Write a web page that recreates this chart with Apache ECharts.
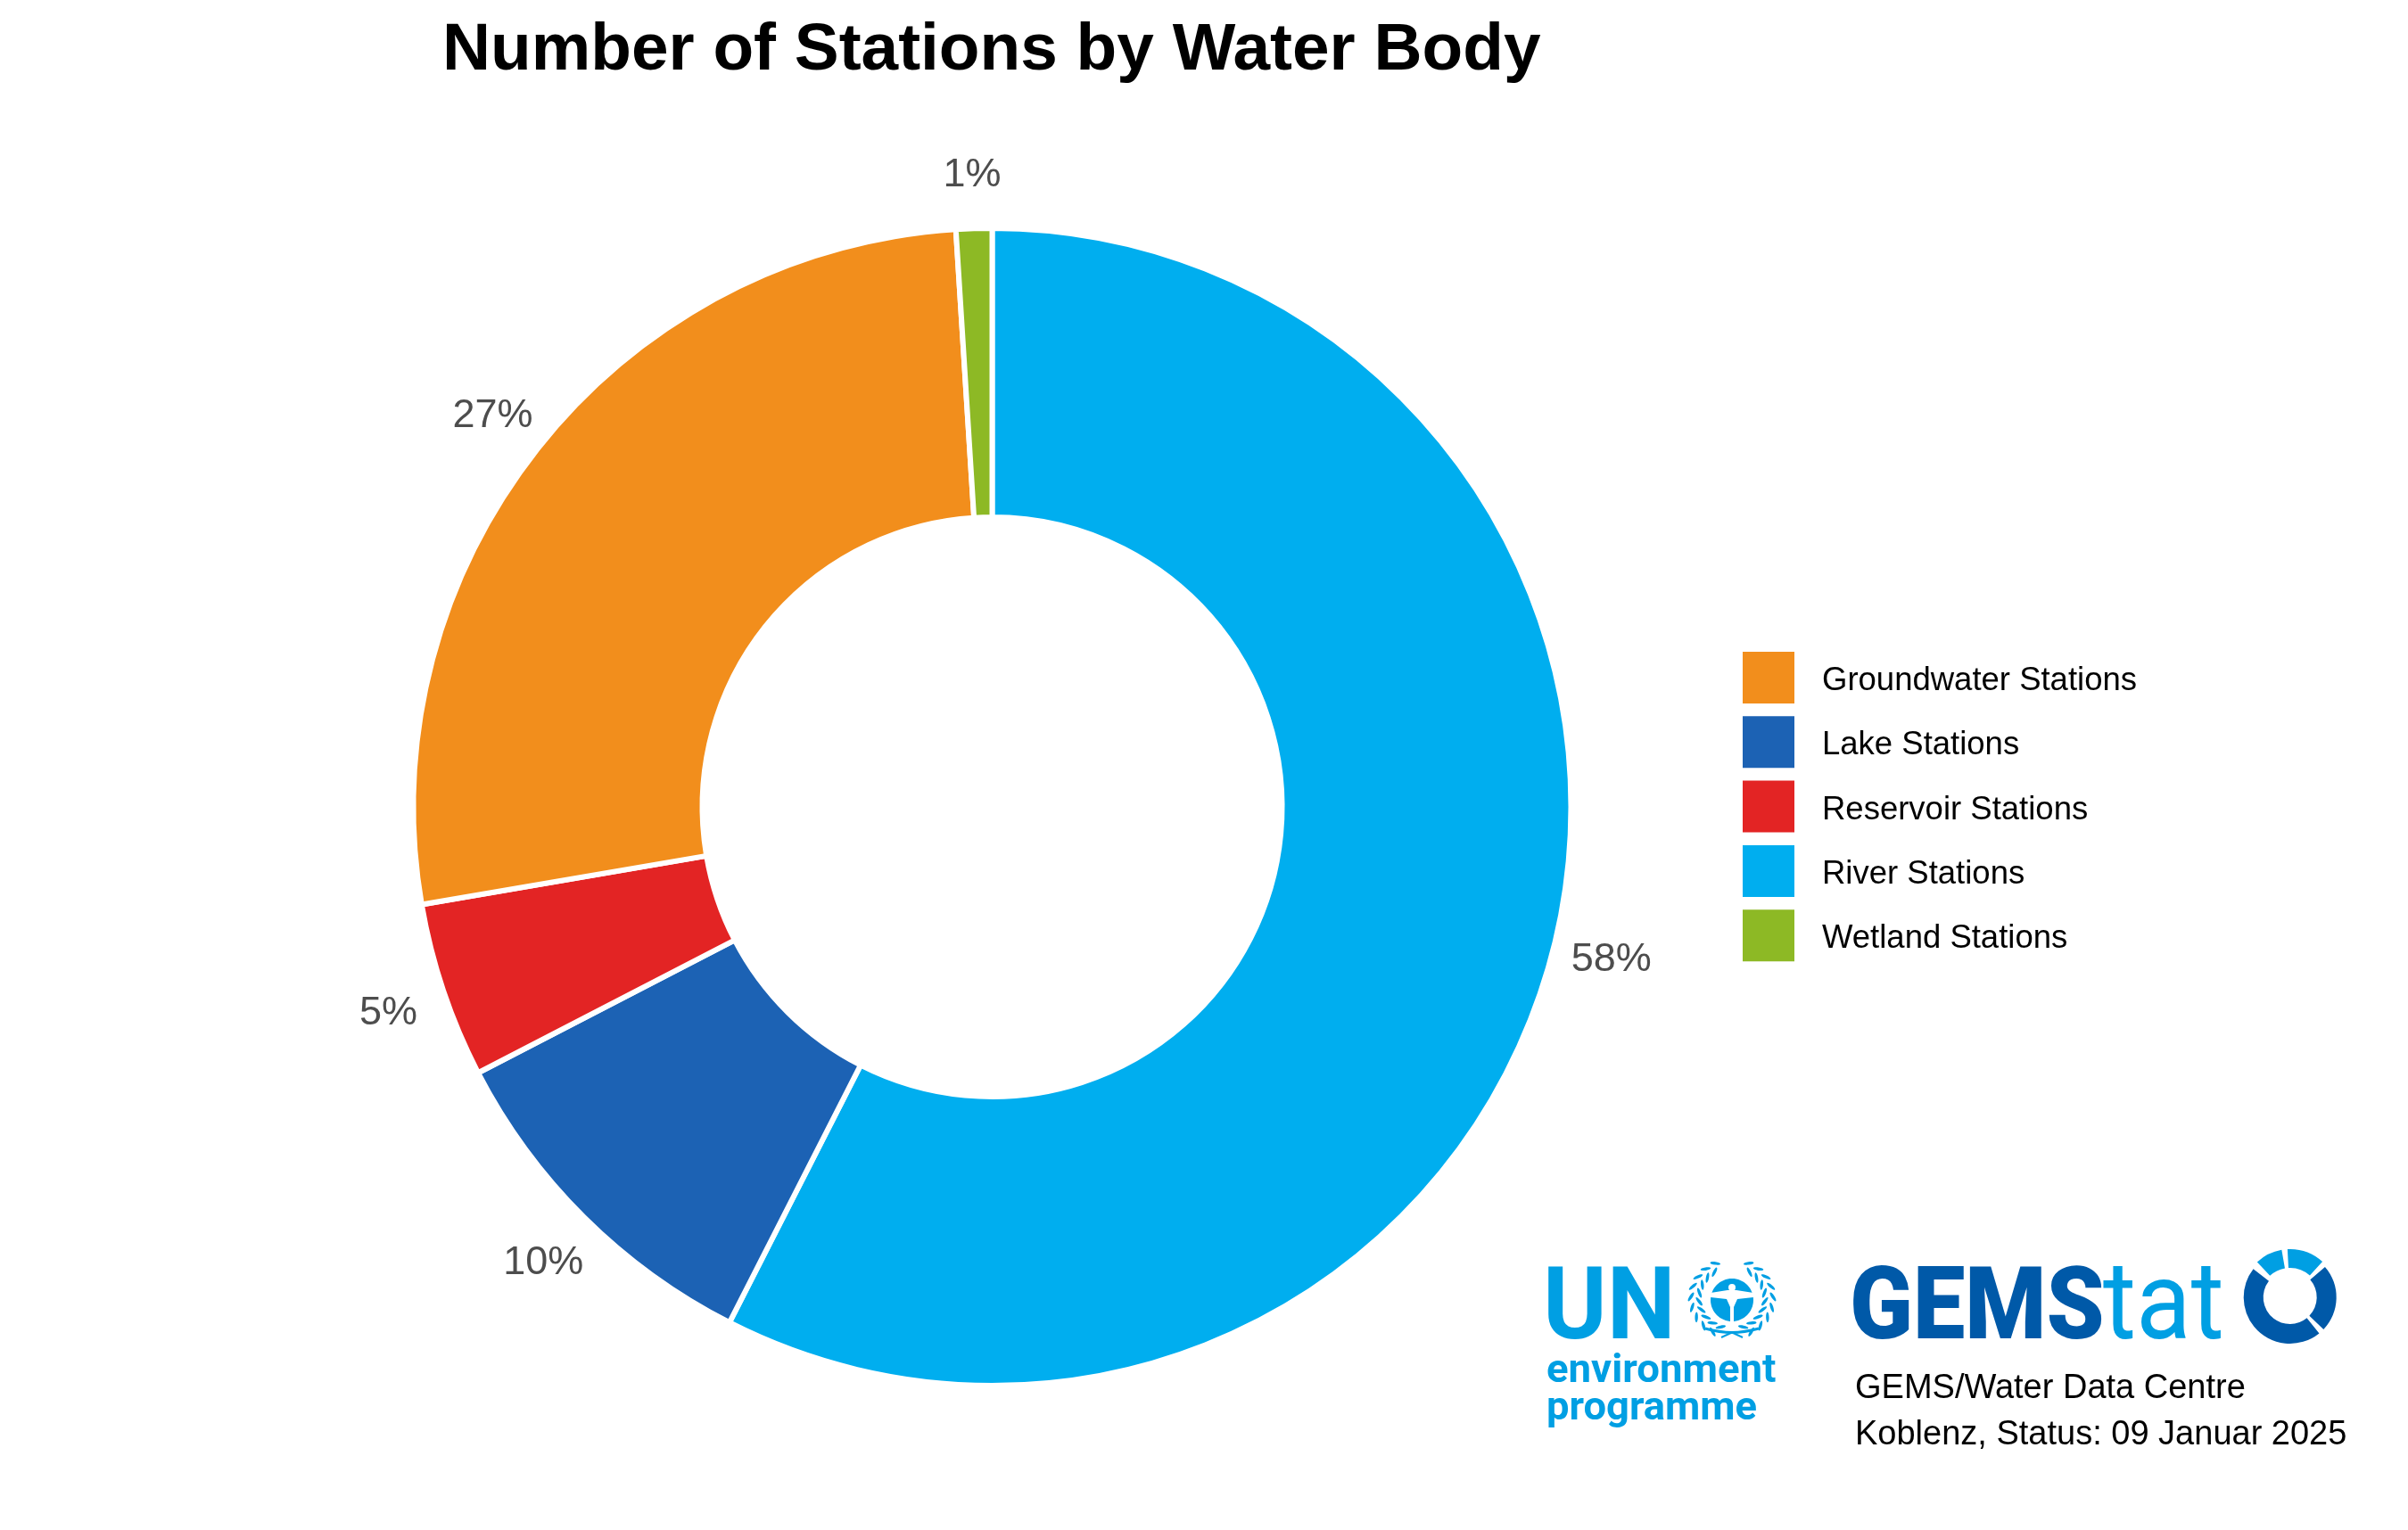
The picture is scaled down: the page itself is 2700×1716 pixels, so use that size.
<!DOCTYPE html>
<html><head><meta charset="utf-8">
<style>html,body{margin:0;padding:0;background:#fff}#c{width:2700px;height:1716px}</style>
<script src="https://cdn.jsdelivr.net/npm/echarts@6/dist/echarts.min.js"></script>
</head><body><div id="c"></div>
<script>
const legendOrder = ['Groundwater Stations','Lake Stations','Reservoir Stations','River Stations','Wetland Stations'];
const sliceNames = ['River Stations','Lake Stations','Reservoir Stations','Groundwater Stations','Wetland Stations'];
const sliceValues = [57.5, 9.9, 4.9, 26.7, 1.0];
const sliceColors = ['#00AEEF','#1C62B4','#E32424','#F28E1C','#8DB925'];
const titleText = 'Number of Stations by Water Body';
const creditLines = ['GEMS/Water Data Centre','Koblenz, Status: 09 Januar 2025'];
const FONT = '"Liberation Sans", Arial, sans-serif';
const LOGOFONT = 'Roboto, "Liberation Sans", sans-serif';
const LIGHT = '#009FE3', DARK = '#0059A8';

function txt(text,x,base,size,fill,weight,sx,family){
  const k = family ? 0.225 : 0.345;
  return {type:'text',x,y:base-k*size,scaleX:sx||1,silent:true,
    style:{text,font:(weight||'normal')+' '+size+'px '+(family||FONT),fill,align:'left',verticalAlign:'middle'}};
}
function sec(cx,cy,r0,r,a,b,fill){
  const d=Math.PI/180;
  return {type:'sector',silent:true,shape:{cx,cy,r0,r,startAngle:a*d,endAngle:b*d,clockwise:true},style:{fill}};
}
const g=[];
g.push(txt(creditLines[0],2080,1571,38,'#000'));
g.push(txt(creditLines[1],2080,1623,38,'#000'));
// UN logo
g.push(txt('UN',1730,1498,114,LIGHT,'bold',0.955,LOGOFONT));
g.push(txt('environment',1734,1549,44,LIGHT,'bold',1.035,LOGOFONT));
g.push(txt('programme',1734,1591,44,LIGHT,'bold',1.03,LOGOFONT));
// emblem
const ex=1942, ey=1458;
g.push({type:'ellipse',silent:true,shape:{cx:ex,cy:ey,rx:24,ry:24},style:{fill:LIGHT}});
g.push({type:'circle',silent:true,shape:{cx:ex,cy:ey-14,r:4},style:{fill:'#fff'}});
g.push({type:'polygon',silent:true,shape:{points:[[-24,-8],[-5,-11],[5,-11],[24,-8],[24,-3],[6,-1],[2,8],[2,24],[-2,24],[-2,8],[-6,-1],[-24,-3]].map(p=>[ex+p[0],ey+p[1]])},style:{fill:'#fff'}});
// wreath leaves
for(let k=-1;k<=1;k+=2){
  for(let i=0;i<9;i++){
    const t=(66-i*16)*Math.PI/180;      // angle along wreath, bottom to top
    for(let row=0;row<2;row++){
      const rr=row?46:37, off=row?-0.07:0.07;
      const lx=ex+k*rr*Math.cos(t+off), ly=ey-2+(rr*0.93)*Math.sin(t+off);
      const rot=k*(t+off) + k*(row?-0.55:0.55);
      g.push({type:'ellipse',silent:true,x:lx,y:ly,rotation:-rot,shape:{cx:0,cy:0,rx:1.7,ry:5.8},style:{fill:LIGHT}});
    }
  }
}
g.push({type:'bezierCurve',silent:true,shape:{x1:ex-30,y1:ey+32,cpx1:ex-8,cpy1:ey+38,x2:ex+30,y2:ey+32,cpx2:ex+8,cpy2:ey+38},style:{stroke:LIGHT,lineWidth:3,fill:'none'}});
g.push({type:'line',silent:true,shape:{x1:ex+1,y1:ey+36,x2:ex-12,y2:ey+42},style:{stroke:LIGHT,lineWidth:2}});
g.push({type:'line',silent:true,shape:{x1:ex-1,y1:ey+36,x2:ex+12,y2:ey+42},style:{stroke:LIGHT,lineWidth:2}});
// GEMStat logo
g.push(txt('GEMS',2074,1498,114,DARK,'900',0.913,LOGOFONT));
g.push(txt('tat',2358,1498,122,LIGHT,'normal',0.93,LOGOFONT));
const rx=2567.7, ry=1455;
g.push(sec(rx,ry,33,54,-133,-100,LIGHT));
g.push(sec(rx,ry,33,54,-93,-47.7,LIGHT));
g.push(sec(rx,ry,30,52,-41,43.7,DARK));
g.push(sec(rx,ry,30,52,51,217.7,DARK));

const option={
  animation:false,
  backgroundColor:'#fff',
  title:{text:titleText,left:496,top:20,itemGap:0,padding:0,
    textStyle:{fontFamily:FONT,fontSize:74.8,fontWeight:'bold',color:'#000'}},
  legend:{orient:'vertical',left:1954,top:731,icon:'rect',itemWidth:58,itemHeight:58,itemGap:14.3,padding:0,
    data:legendOrder,selectedMode:false,
    itemStyle:{borderWidth:0},
    formatter:'{a|{name}}',
    textStyle:{fontFamily:FONT,fontSize:36.5,color:'#000',
      rich:{a:{fontFamily:FONT,fontSize:36.5,color:'#000',verticalAlign:'top',padding:[8,0,0,26]}}}},
  series:[
    {type:'pie',center:[1112.5,905],radius:[325,649],startAngle:90,clockwise:true,
     avoidLabelOverlap:false,silent:true,label:{show:false},labelLine:{show:false},
     itemStyle:{borderColor:'#fff',borderWidth:6},
     data:sliceNames.map((n,i)=>({name:n,value:sliceValues[i],itemStyle:{color:sliceColors[i]}}))},
    {type:'pie',center:[1112.5,905],radius:[711,711],startAngle:90,clockwise:true,
     avoidLabelOverlap:false,silent:true,minShowLabelAngle:0,labelLine:{show:false},
     itemStyle:{color:'transparent',borderWidth:0},
     label:{show:true,position:'inside',formatter:p=>Math.round(p.value)+'%',
       fontFamily:FONT,fontSize:45,color:'#4D4D4D',offset:[0,5]},
     data:sliceNames.map((n,i)=>({name:n,value:sliceValues[i]}))}
  ],
  graphic:g
};
echarts.init(document.getElementById('c'),null,{renderer:'canvas'}).setOption(option);
</script></body></html>
